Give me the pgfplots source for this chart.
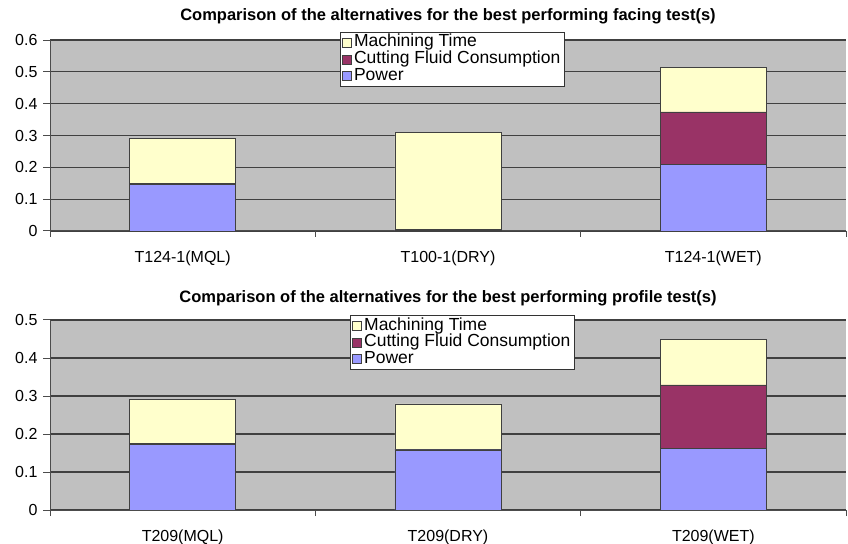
\documentclass[border=0pt]{standalone}
\usepackage{pgfplots}
\pgfplotsset{compat=1.18}
\usepackage{fontspec}
\setmainfont{Liberation Sans}
\definecolor{bg}{RGB}{192,192,192}
\definecolor{pw}{RGB}{153,153,255}
\definecolor{cf}{RGB}{153,51,102}
\definecolor{mt}{RGB}{255,255,204}
\pgfplotsset{
  sqleg/.style={legend image code/.code={\draw[##1,draw=black!75,line width=0.7pt] (0bp,-4.5bp) rectangle (9bp,4.5bp);}},
  mystyle/.style={
    scale only axis, width=796bp,
    xmin=0, xmax=3, ymin=0,
    axis lines=left, axis line style={-, black!70, line width=1pt},
    axis background/.style={fill=bg},
    ybar stacked, bar width=0.4,
    xtick={0.5,1.5,2.5},
    x tick style={draw=none},
    extra x ticks={0,1,2,3}, extra x tick labels={},
    extra x tick style={x tick style={draw=black!70, line width=1pt}, major tick length=6bp},
    tick align=outside,
    y tick style={draw=black!70, line width=1pt}, major tick length=7bp,
    ymajorgrids, major grid style={black!75, line width=1.3pt},
    tick label style={font=\fontsize{16bp}{18bp}\selectfont},
    xticklabel style={yshift=-9bp},
    yticklabel style={xshift=-2bp},
    /pgf/number format/.cd, fixed, precision=1, assume math mode=true,
    /pgfplots/.cd,
    every axis plot/.append style={draw=black!75, line width=0.8pt},
    title style={font=\fontsize{16.5bp}{18bp}\selectfont\bfseries, anchor=base},
    reverse legend,
    legend cell align=left,
    legend style={draw=black!80, fill=white, line width=0.8pt,
      font=\fontsize{17.5bp}{17bp}\selectfont,
      row sep=0pt, inner sep=2bp,
      nodes={inner ysep=0.3bp, text height=12.3bp, text depth=3.8bp}},
  }
}
\begin{document}
\begin{tikzpicture}
\path[use as bounding box] (0,0) rectangle (848bp,544bp);
\begin{axis}[mystyle, at={(50bp,313bp)}, anchor=south west, height=191bp,
  ymax=0.6, ytick={0,0.1,...,0.6},
  xticklabels={T124-1(MQL),T100-1(DRY),T124-1(WET)},
  title={Comparison of the alternatives for the best performing facing test(s)},
  title style={at={(0.5,1)}, yshift=14bp},
  legend style={at={(0.3643,1.042)}, anchor=north west}]
\addplot[fill=pw, sqleg] coordinates {(0.5,0.147) (1.5,0.002) (2.5,0.210)};
\addplot[fill=cf, sqleg] coordinates {(0.5,0.002) (1.5,0.002) (2.5,0.164)};
\addplot[fill=mt, sqleg] coordinates {(0.5,0.141) (1.5,0.306) (2.5,0.141)};
\legend{Power,Cutting Fluid Consumption,Machining Time}
\end{axis}
\begin{axis}[mystyle, at={(50bp,34bp)}, anchor=south west, height=190bp,
  ymax=0.5, ytick={0,0.1,...,0.5},
  xticklabels={T209(MQL),T209(DRY),T209(WET)},
  title={Comparison of the alternatives for the best performing profile test(s)},
  title style={at={(0.5,1)}, yshift=12bp},
  legend style={at={(0.377,1.026)}, anchor=north west}]
\addplot[fill=pw, sqleg] coordinates {(0.5,0.172) (1.5,0.158) (2.5,0.163)};
\addplot[fill=cf, sqleg] coordinates {(0.5,0.002) (1.5,0.002) (2.5,0.166)};
\addplot[fill=mt, sqleg] coordinates {(0.5,0.118) (1.5,0.119) (2.5,0.120)};
\legend{Power,Cutting Fluid Consumption,Machining Time}
\end{axis}
\end{tikzpicture}
\end{document}
